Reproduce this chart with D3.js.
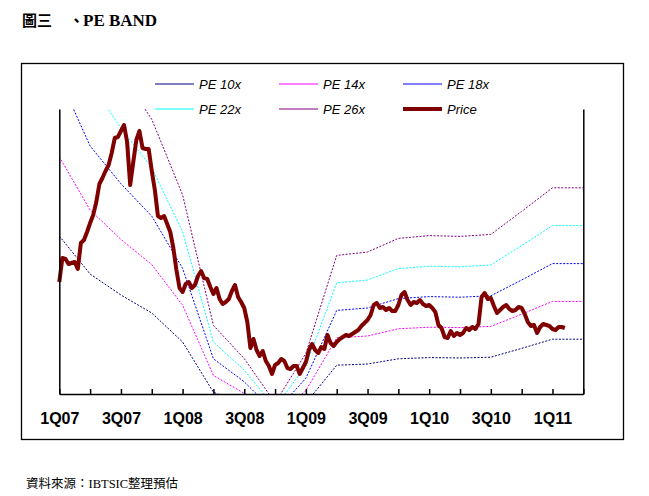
<!DOCTYPE html>
<html>
<head>
<meta charset="utf-8">
<script src="https://cdn.jsdelivr.net/npm/d3@7"></script>
<style>
  html, body { margin: 0; padding: 0; background: #fff; }
  svg { display: block; }
  .axis-label { font-family: Arial, "Liberation Sans", sans-serif; font-weight: bold; font-size: 16px; }
  .legend-text { font-family: Arial, "Liberation Sans", sans-serif; font-style: italic; font-size: 13px; }
</style>
</head>
<body>
<div id="chart"></div>
<script>
// PE band chart: five PE multiple lines + daily price (quarter index on x)

// quarter boundaries 1Q07 .. 2Q11 (index 0..17)
const quarters = ["1Q07","2Q07","3Q07","4Q07","1Q08","2Q08","3Q08","4Q08",
  "1Q09","2Q09","3Q09","4Q09","1Q10","2Q10","3Q10","4Q10","1Q11","2Q11"];
const tickLabels = ["1Q07","3Q07","1Q08","3Q08","1Q09","3Q09","1Q10","3Q10","1Q11"];

// band values at each quarter boundary
const pe10 = [99, 80, 69.5, 60.5, 46, 20.9, 14.5, 6, 15.5, 34.4, 35, 37.6, 38.2, 38, 38.4, 42.8, 47.4, 47.4];
const pe14 = [138.6, 112, 97.3, 84.7, 64.4, 29.3, 20.3, 8.4, 21.7, 48.1, 49, 52.6, 53.4, 53.2, 53.8, 59.9, 66.3, 66.3];
const pe18 = [178.2, 144, 125.1, 108.9, 82.8, 37.6, 26.1, 10.8, 27.9, 61.8, 63, 67.7, 68.7, 68.4, 69.1, 77, 85.2, 85.2];
const pe22 = [217.8, 176, 152.9, 133.1, 101.2, 46, 31.9, 13.2, 34.1, 75.6, 77, 82.7, 83.9, 83.6, 84.5, 94.2, 104.2, 104.2];
const pe26 = [257.4, 208, 180.7, 157.3, 119.6, 54.3, 37.7, 15.6, 40.3, 89.3, 91, 97.8, 99.2, 98.8, 99.8, 111.3, 123.1, 123.1];

// price, one reading every 0.1 quarter from 1Q07
const priceStep = 0.1;
const price = [
  76, 88, 87.5, 85, 85.5, 86, 82.5, 95.5, 97, 101,
  105.5, 109.5, 116, 125, 128, 131.5, 134.5, 140.5, 148, 148.5,
  151.5, 154.5, 146, 124.5, 136, 147, 151.5, 143, 142.5, 142.5,
  131.5, 122, 109, 108, 109, 105, 101, 93, 82, 73,
  71, 75, 76, 73, 74.5, 79, 81.5, 78, 77.5, 73.5,
  70, 73, 67.5, 65, 66, 67.5, 71.5, 74.5, 68.5, 66,
  63, 56, 43, 47.5, 42, 39, 41.5, 36.5, 34, 30,
  34.5, 35.5, 37.5, 36.5, 33, 32.5, 34, 34, 30, 33,
  36, 42, 45, 42, 40.5, 43.5, 42.5, 49.5, 45.5, 44,
  46, 47.5, 48.5, 49.5, 49, 50, 51, 52, 54, 55.5,
  57, 59.5, 64.5, 65.5, 63, 63.5, 62, 63, 61.5, 61.5,
  64.5, 69.5, 71, 67, 64.5, 66, 65.5, 67, 65, 64,
  64.5, 63, 61, 54.5, 53, 48.5, 48, 51.5, 49, 50.5,
  49.5, 50.5, 53, 52, 53.5, 52.5, 55, 68.5, 70.5, 67.5,
  68, 64, 60.5, 62, 63.5, 64.5, 62.5, 61.5, 62, 63.5,
  63, 60, 56, 54, 54.5, 50.5, 53.5, 55, 54.5, 54,
  52.5, 52, 53.5, 53.5, 53
];

const series = [
  { name: "PE 10x", values: pe10, color: "#000080" },
  { name: "PE 14x", values: pe14, color: "#ff00ff" },
  { name: "PE 18x", values: pe18, color: "#0000ff" },
  { name: "PE 22x", values: pe22, color: "#00ffff" },
  { name: "PE 26x", values: pe26, color: "#800080" }
];
const priceColor = "#800000";

const width = 649, height = 496;
const plot = { left: 59.3, right: 583.3, top: 109, bottom: 394 };

const svg = d3.select("#chart").append("svg")
  .attr("width", width)
  .attr("height", height);

// title
const title = svg.append("g").attr("font-weight", "bold").attr("fill", "#000");
title.append("text")
  .attr("x", 22).attr("y", 26)
  .attr("font-family", "'Noto Sans CJK TC', 'Noto Sans CJK SC', sans-serif")
  .attr("font-size", 15)
  .text("圖三");
title.append("text")
  .attr("x", 69).attr("y", 26)
  .attr("font-family", "'Noto Sans CJK TC', sans-serif")
  .attr("font-size", 15)
  .text("、");
title.append("text")
  .attr("x", 83).attr("y", 26)
  .attr("font-family", "'Liberation Serif', 'Times New Roman', serif")
  .attr("font-size", 17)
  .text("PE BAND");

// outer frame
svg.append("rect")
  .attr("x", 21.5).attr("y", 63.5)
  .attr("width", 602).attr("height", 376)
  .attr("fill", "none")
  .attr("stroke", "#000")
  .attr("stroke-width", 1.3);

const x = d3.scaleLinear().domain([0, quarters.length - 1]).range([plot.left, plot.right]);
const y = d3.scaleLinear().domain([20, 162.5]).range([plot.bottom, plot.top]);

svg.append("clipPath").attr("id", "plot-clip")
  .append("rect")
  .attr("x", plot.left).attr("y", plot.top)
  .attr("width", plot.right - plot.left)
  .attr("height", plot.bottom - plot.top);

const g = svg.append("g");

// band lines
const bandLine = d3.line()
  .x((d, i) => x(i))
  .y(d => y(d));

g.append("g")
  .attr("clip-path", "url(#plot-clip)")
  .selectAll("path.band")
  .data(series)
  .join("path")
  .attr("class", "band")
  .attr("d", d => bandLine(d.values))
  .attr("fill", "none")
  .attr("stroke", d => d.color)
  .attr("stroke-width", 1)
  .attr("stroke-dasharray", "2,1.5");

// price line
const priceLine = d3.line()
  .x((d, i) => x(i * priceStep))
  .y(d => y(d));

g.append("path")
  .datum(price)
  .attr("d", priceLine)
  .attr("fill", "none")
  .attr("stroke", priceColor)
  .attr("stroke-width", 4)
  .attr("stroke-linejoin", "round");

// axes
const xAxis = d3.axisBottom(x)
  .tickValues(d3.range(quarters.length))
  .tickSizeInner(-5)
  .tickSizeOuter(0)
  .tickPadding(19)
  .tickFormat(i => tickLabels.includes(quarters[i]) ? quarters[i] : "");

const xAxisG = g.append("g")
  .attr("transform", `translate(0,${plot.bottom})`)
  .call(xAxis);
xAxisG.selectAll("text").attr("class", "axis-label").attr("fill", "#000");
xAxisG.selectAll("path,line").attr("stroke", "#000").attr("stroke-width", 1.5);
xAxisG.attr("font-size", null).attr("font-family", null);

g.append("g")
  .attr("transform", `translate(${plot.left},0)`)
  .call(d3.axisLeft(y).tickValues([]).tickSizeOuter(0))
  .selectAll("path").attr("stroke", "#000").attr("stroke-width", 1.5);

g.append("g")
  .attr("transform", `translate(${plot.right},0)`)
  .call(d3.axisRight(y).tickValues([]).tickSizeOuter(0))
  .selectAll("path").attr("stroke", "#000").attr("stroke-width", 1.5);

// legend (3 columns x 2 rows)
const legendItems = series.concat([{ name: "Price", color: priceColor, price: true }]);
const legendCols = [155, 279, 403];
const legendRows = [84, 109];

const legend = svg.append("g")
  .selectAll("g")
  .data(legendItems)
  .join("g")
  .attr("transform", (d, i) => `translate(${legendCols[i % 3]},${legendRows[Math.floor(i / 3)]})`);

legend.append("line")
  .attr("x1", 0).attr("x2", 39)
  .attr("y1", 0).attr("y2", 0)
  .attr("stroke", d => d.color)
  .attr("stroke-width", d => d.price ? 4 : 1);

legend.append("text")
  .attr("class", "legend-text")
  .attr("x", 44)
  .attr("y", 5)
  .text(d => d.name);

// source note
const note = svg.append("text")
  .attr("x", 26).attr("y", 488)
  .attr("font-size", 12.5)
  .attr("font-family", "'Noto Sans CJK TC', sans-serif");
note.append("tspan").text("資料來源：");
note.append("tspan")
  .attr("font-family", "'Liberation Serif', 'Times New Roman', serif")
  .text("IBTSIC");
note.append("tspan").text("整理預估");
</script>
</body>
</html>
